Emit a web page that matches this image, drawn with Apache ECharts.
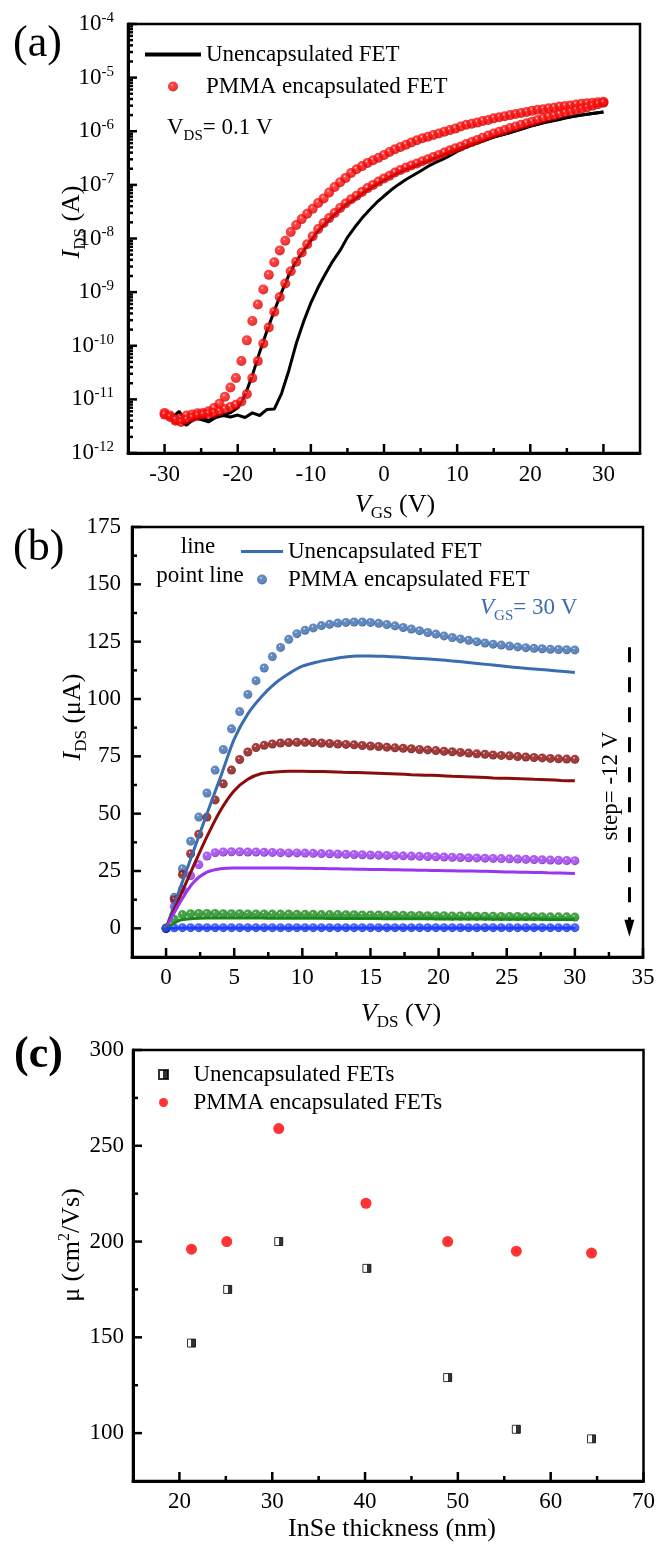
<!DOCTYPE html>
<html>
<head>
<meta charset="utf-8" />
<script src="https://cdn.jsdelivr.net/npm/echarts@6.0.0/dist/echarts.min.js"></script>
<style>
  html, body { margin: 0; padding: 0; background: #fff; }
  #main { width: 658px; height: 1547px; }
</style>
</head>
<body>
<div id="main"></div>
<script>
// ---------- (a) transfer curves, V_DS = 0.1 V ----------
// gate sweep of the PMMA points (0.75 V step)
const vgsSweep = [-30,-29.25,-28.5,-27.75,-27,-26.25,-25.5,-24.75,-24,-23.25,-22.5,-21.75,-21,-20.25,-19.5,-18.75,-18,-17.25,-16.5,-15.75,
  -15,-14.25,-13.5,-12.75,-12,-11.25,-10.5,-9.75,-9,-8.25,-7.5,-6.75,-6,-5.25,-4.5,-3.75,-3,-2.25,-1.5,-0.75,
  0,0.75,1.5,2.25,3,3.75,4.5,5.25,6,6.75,7.5,8.25,9,9.75,10.5,11.25,12,12.75,13.5,14.25,
  15,15.75,16.5,17.25,18,18.75,19.5,20.25,21,21.75,22.5,23.25,24,24.75,25.5,26.25,27,27.75,28.5,29.25,30];
const pmmaFwd = [5.6e-12,5.0e-12,4.0e-12,4.4e-12,5.0e-12,5.2e-12,5.5e-12,5.6e-12,6.0e-12,6.9e-12,
  8.3e-12,1.12e-11,1.66e-11,2.5e-11,5.2e-11,1.26e-10,2.9e-10,5.9e-10,1.12e-9,2.1e-9,
  3.6e-9,6.0e-9,9.1e-9,1.32e-8,1.78e-8,2.3e-8,2.9e-8,3.6e-8,4.6e-8,5.6e-8,
  7.2e-8,9.1e-8,1.12e-7,1.35e-7,1.66e-7,1.95e-7,2.24e-7,2.57e-7,2.88e-7,3.2e-7,
  3.6e-7,4.1e-7,4.6e-7,5.1e-7,5.6e-7,6.2e-7,6.8e-7,7.4e-7,7.9e-7,8.5e-7,
  9.1e-7,9.8e-7,1.05e-6,1.12e-6,1.23e-6,1.32e-6,1.38e-6,1.45e-6,1.55e-6,1.62e-6,
  1.74e-6,1.82e-6,1.91e-6,2.0e-6,2.09e-6,2.19e-6,2.29e-6,2.4e-6,2.51e-6,2.57e-6,
  2.69e-6,2.75e-6,2.88e-6,2.95e-6,3.02e-6,3.16e-6,3.24e-6,3.31e-6,3.39e-6,3.47e-6,3.55e-6];
const pmmaRev = [5.2e-12,4.7e-12,4.2e-12,3.8e-12,4.2e-12,4.6e-12,5.0e-12,5.2e-12,5.4e-12,5.6e-12,
  6.0e-12,6.6e-12,7.2e-12,7.9e-12,9.1e-12,1.26e-11,2.5e-11,5.2e-11,1.1e-10,2.2e-10,
  4.3e-10,8.1e-10,1.45e-9,2.45e-9,3.7e-9,5.5e-9,7.8e-9,1.1e-8,1.5e-8,1.95e-8,
  2.4e-8,3.0e-8,3.7e-8,4.5e-8,5.4e-8,6.3e-8,7.4e-8,8.7e-8,1.0e-7,1.15e-7,
  1.32e-7,1.48e-7,1.7e-7,1.9e-7,2.1e-7,2.3e-7,2.5e-7,2.75e-7,3.0e-7,3.3e-7,
  3.6e-7,4.0e-7,4.4e-7,4.8e-7,5.2e-7,5.8e-7,6.3e-7,6.9e-7,7.6e-7,8.3e-7,
  9.1e-7,9.8e-7,1.05e-6,1.15e-6,1.23e-6,1.32e-6,1.41e-6,1.51e-6,1.62e-6,1.74e-6,
  1.86e-6,1.95e-6,2.09e-6,2.24e-6,2.34e-6,2.51e-6,2.63e-6,2.78e-6,3.0e-6,3.2e-6,3.4e-6];
// gate sweep of the unencapsulated lines (1 V step)
const vgsLine = [-30,-29,-28,-27,-26,-25,-24,-23,-22,-21,-20,-19,-18,-17,-16,-15,-14,-13,-12,-11,
  -10,-9,-8,-7,-6,-5,-4,-3,-2,-1,0,1,2,3,4,5,6,7,8,9,
  10,11,12,13,14,15,16,17,18,19,20,21,22,23,24,25,26,27,28,29,30];
const uncapFwd = [5.0e-12,4.5e-12,6.0e-12,3.4e-12,4.2e-12,4.6e-12,4.0e-12,4.8e-12,5.2e-12,5.6e-12,
  7.0e-12,1.2e-11,2.8e-11,7.6e-11,1.9e-10,4.5e-10,1.0e-9,2.1e-9,3.8e-9,5.9e-9,
  9.1e-9,1.4e-8,1.9e-8,2.6e-8,3.5e-8,4.5e-8,5.4e-8,6.9e-8,8.5e-8,1.02e-7,
  1.23e-7,1.45e-7,1.7e-7,1.95e-7,2.2e-7,2.5e-7,2.8e-7,3.2e-7,3.6e-7,4.1e-7,
  4.6e-7,5.1e-7,5.8e-7,6.3e-7,7.1e-7,7.8e-7,8.5e-7,9.3e-7,1.02e-6,1.12e-6,
  1.23e-6,1.35e-6,1.48e-6,1.58e-6,1.7e-6,1.78e-6,1.91e-6,2.0e-6,2.09e-6,2.19e-6,2.29e-6];
const uncapRev = [5.5e-12,4.8e-12,4.0e-12,3.3e-12,4.5e-12,4.2e-12,3.8e-12,4.6e-12,5.0e-12,4.7e-12,
  5.1e-12,4.6e-12,5.6e-12,5.0e-12,6.5e-12,6.6e-12,1.3e-11,3.5e-11,1.1e-10,2.8e-10,
  6.3e-10,1.23e-9,2.2e-9,3.8e-9,6.0e-9,1.05e-8,1.62e-8,2.4e-8,3.4e-8,4.7e-8,
  6.2e-8,8.1e-8,1.02e-7,1.26e-7,1.51e-7,1.82e-7,2.2e-7,2.6e-7,3.0e-7,3.5e-7,
  4.2e-7,4.9e-7,5.5e-7,6.2e-7,6.9e-7,7.8e-7,8.5e-7,9.3e-7,1.02e-6,1.12e-6,
  1.26e-6,1.35e-6,1.45e-6,1.55e-6,1.66e-6,1.82e-6,1.91e-6,2.0e-6,2.09e-6,2.19e-6,2.29e-6];

// ---------- (b) output curves, V_GS from 30 V in -12 V steps ----------
const vdsDot = [0,0.6,1.2,1.8,2.4,3,3.6,4.2,4.8,5.4,6,6.6,7.2,7.8,8.4,9,9.6,10.2,10.8,11.4,
  12,12.6,13.2,13.8,14.4,15,15.6,16.2,16.8,17.4,18,18.6,19.2,19.8,20.4,21,21.6,22.2,22.8,23.4,
  24,24.6,25.2,25.8,26.4,27,27.6,28.2,28.8,29.4,30];
const pmma30 = [0,13.5,26,38,48.5,59,69,78,87,94.5,102,108,113.5,118.5,122.5,126,128.5,130,131,132,
  132.6,133.1,133.4,133.6,133.6,133.4,133,132.5,131.9,131.2,130.5,129.8,129,128.3,127.5,126.8,126.2,125.6,125,124.4,
  123.9,123.5,123.1,122.7,122.4,122.1,121.9,121.7,121.6,121.5,121.4];
const pmma18 = [0,12.5,23.5,32.5,41,48.5,56,63,69,73.6,76.9,78.8,79.8,80.4,80.8,81,81.1,81.1,81,80.8,
  80.6,80.4,80.2,80,79.7,79.5,79.3,79,78.7,78.5,78.3,78,77.8,77.5,77.2,77,76.7,76.4,76.1,75.9,
  75.6,75.4,75.2,74.9,74.7,74.5,74.3,74.1,73.9,73.8,73.7];
const pmma6 = [0,9.5,17,23,27.8,31.5,33,33.3,33.4,33.4,33.3,33.3,33.2,33.1,33,32.9,32.9,32.8,32.7,32.6,
  32.5,32.4,32.3,32.2,32.1,32,31.9,31.8,31.7,31.6,31.5,31.4,31.3,31.2,31.1,31,30.9,30.8,30.7,30.6,
  30.5,30.4,30.3,30.2,30.1,30,29.9,29.8,29.7,29.6,29.5];
const pmmaN6 = [0,4,6,6.4,6.5,6.5,6.5,6.4,6.4,6.4,6.3,6.3,6.3,6.2,6.2,6.2,6.1,6.1,6.1,6,
  6,6,5.9,5.9,5.8,5.8,5.8,5.7,5.7,5.7,5.6,5.6,5.5,5.5,5.5,5.4,5.4,5.4,5.3,5.3,
  5.3,5.2,5.2,5.2,5.1,5.1,5.1,5,5,5,4.9];
const pmmaN18 = [0,0.2,0.3,0.3,0.3,0.3,0.3,0.3,0.3,0.3,0.3,0.3,0.3,0.3,0.3,0.3,0.3,0.3,0.3,0.3,
  0.3,0.3,0.3,0.3,0.3,0.3,0.3,0.3,0.3,0.3,0.3,0.3,0.3,0.3,0.3,0.3,0.3,0.3,0.3,0.3,
  0.3,0.3,0.3,0.3,0.3,0.3,0.3,0.3,0.3,0.3,0.3];
const vdsLine = [0,1,2,3,4,5,6,7,8,9,10,11,12,13,14,15,16,17,18,19,20,21,22,23,24,25,26,27,28,29,30];
const uncap30 = [0,17,33.5,50,66,82.5,93.5,101,106.8,111,114.3,116,117.2,118.2,118.7,118.8,118.6,118.3,117.9,117.5,
  117.1,116.6,116,115.4,114.8,114.2,113.6,113.1,112.6,112.1,111.6];
const uncap18 = [0,13.5,27,40,51.5,60,65,67.5,68.2,68.5,68.5,68.4,68.3,68.1,67.9,67.7,67.5,67.3,67,66.8,
  66.6,66.3,66.1,65.9,65.6,65.4,65.2,65,64.8,64.5,64.3];
const uncap6 = [0,11,20,24.5,26,26.3,26.3,26.3,26.3,26.3,26.2,26.1,26,25.9,25.8,25.7,25.6,25.5,25.4,25.3,
  25.2,25.1,25,24.9,24.8,24.6,24.5,24.4,24.2,24.1,23.9];
const uncapN6 = [0,3.5,4.3,4.5,4.5,4.5,4.5,4.5,4.4,4.4,4.4,4.4,4.3,4.3,4.3,4.3,4.2,4.2,4.2,4.2,
  4.1,4.1,4.1,4.1,4,4,4,4,3.9,3.9,3.9];
const uncapN18 = [0,0.1,0.1,0.1,0.1,0.1,0.1,0.1,0.1,0.1,0.1,0.1,0.1,0.1,0.1,0.1,0.1,0.1,0.1,0.1,
  0.1,0.1,0.1,0.1,0.1,0.1,0.1,0.1,0.1,0.1,0.1];
const gateNames = ['30 V', '18 V', '6 V', '-6 V', '-18 V'];

// ---------- (c) mobility vs thickness ----------
const thickUncap = [21.3, 25.2, 30.7, 40.2, 48.9, 56.3, 64.4];
const muUncap = [147, 175, 200, 186, 129, 102, 97];
const thickPmma = [21.3, 25.1, 30.7, 40.1, 48.9, 56.3, 64.4];
const muPmma = [196, 200, 259, 220, 200, 195, 194];

// ---------- tick values ----------
const aMajorX = [-30, -20, -10, 0, 10, 20, 30];
const aMinorX = [-25, -15, -5, 5, 15, 25];
const aMajorY = [1e-12, 1e-11, 1e-10, 1e-9, 1e-8, 1e-7, 1e-6, 1e-5, 1e-4];
const bMajorX = [0, 5, 10, 15, 20, 25, 30, 35];
const bMinorX = [2.5, 7.5, 12.5, 17.5, 22.5, 27.5, 32.5];
const bMajorY = [0, 25, 50, 75, 100, 125, 150, 175];
const bMinorY = [12.5, 37.5, 62.5, 87.5, 112.5, 137.5, 162.5];
const cMajorX = [20, 30, 40, 50, 60, 70];
const cMinorX = [25, 35, 45, 55, 65];
const cMajorY = [100, 150, 200, 250, 300];
const cMinorY = [125, 175, 225, 275];
// log minor ticks at 2..9 x 10^n
const aMinorY = [];
for (let n = -12; n < -4; n++) for (let k = 2; k <= 9; k++) aMinorY.push(k * Math.pow(10, n));

const SERIF = '"Liberation Serif", "Times New Roman", serif';
const col = { '30 V': '#3a6cb0', '18 V': '#8b0c0c', '6 V': '#9a35f0', '-6 V': '#178a17', '-18 V': '#1f3dff' };
const colDark = { '30 V': '#1d3f70', '18 V': '#4a0000', '6 V': '#5a1090', '-6 V': '#0a4a0a', '-18 V': '#0a1a90' };

function pairs(xs, ys) { return xs.map(function (x, i) { return [x, ys[i]]; }); }
function ball(base, dark) {
  return new echarts.graphic.RadialGradient(0.4, 0.34, 0.66, [
    { offset: 0, color: '#ffffff' }, { offset: 0.2, color: base }, { offset: 0.75, color: base }, { offset: 1, color: dark }
  ]);
}

// axis with line and labels
function axis(gi, pos, min, max, step, majors, margin) {
  return {
    type: 'value', gridIndex: gi, position: pos, min: min, max: max, interval: step,
    splitLine: { show: false },
    axisLine: { show: true, onZero: false, lineStyle: { color: '#000', width: 3 } },
    axisTick: { show: false },
    axisLabel: { show: true, customValues: majors, margin: margin, color: '#000', fontFamily: SERIF, fontSize: 23 }
  };
}

const legendText = { color: '#000', fontFamily: SERIF, fontSize: 23 };
const redBall = new echarts.graphic.RadialGradient(0.4, 0.34, 0.66, [
  { offset: 0, color: '#ffe8e8' }, { offset: 0.2, color: '#ff1a1a' }, { offset: 0.8, color: '#f00000' }, { offset: 1, color: '#b00000' }
]);

const seriesB = [];
const pmmaB = [pmma30, pmma18, pmma6, pmmaN6, pmmaN18];
const uncapB = [uncap30, uncap18, uncap6, uncapN6, uncapN18];
gateNames.forEach(function (g, i) {
  seriesB.push({
    type: 'scatter', name: 'PMMA encapsulated FET (' + g + ')', xAxisIndex: 1, yAxisIndex: 1,
    data: pairs(vdsDot, pmmaB[i]), symbolSize: 9, itemStyle: { color: ball(col[g], colDark[g]) }, z: 2
  });
});
gateNames.forEach(function (g, i) {
  seriesB.push({
    type: 'line', name: 'Unencapsulated FET (' + g + ')', xAxisIndex: 1, yAxisIndex: 1,
    data: pairs(vdsLine, uncapB[i]), symbol: 'none', smooth: 0.3,
    lineStyle: { color: col[g], width: 3 }, itemStyle: { color: col[g] }, z: 3
  });
});
// dashed arrow "step = -12 V"
seriesB[seriesB.length - 1].markLine = {
  silent: true, symbol: ['none', 'triangle'], label: { show: false },
  lineStyle: { color: '#000', width: 3, type: [15, 15] },
  data: [[{ coord: [34, 122.6] }, { coord: [34, 0], symbol: 'triangle', symbolSize: [10, 17] }]]
};

// rich styles for axis titles and annotations
function richSet(fill) {
  return {
    i: { fontFamily: SERIF, fontSize: 26, fontStyle: 'italic', fill: fill },
    n: { fontFamily: SERIF, fontSize: 26, fill: fill },
    s: { fontFamily: SERIF, fontSize: 17, fill: fill, padding: [18, 0, 0, 0] },
    p: { fontFamily: SERIF, fontSize: 16, fill: fill, padding: [0, 0, 14, 0] },
    ni: { fontFamily: SERIF, fontSize: 23, fontStyle: 'italic', fill: fill },
    nn: { fontFamily: SERIF, fontSize: 23, fill: fill },
    ns: { fontFamily: SERIF, fontSize: 15, fill: fill, padding: [16, 0, 0, 0] }
  };
}
function label(x, y, text, rot) {
  return {
    type: 'text', x: x, y: y, rotation: rot || 0,
    style: { text: text, rich: richSet('#000'), align: 'center', verticalAlign: 'middle' }
  };
}

const textEls = [
  { type: 'text', x: 13, y: 44, style: { text: '(a)', font: '44px ' + SERIF, fill: '#000', verticalAlign: 'middle' } },
  { type: 'text', x: 13, y: 548, style: { text: '(b)', font: '44px ' + SERIF, fill: '#000', verticalAlign: 'middle' } },
  { type: 'text', x: 14, y: 1056, style: { text: '(c)', font: 'bold 44px ' + SERIF, fill: '#000', verticalAlign: 'middle' } },
  // axis titles
  label(395, 505, '{i|V}{s|GS}{n| (V)}'),
  label(401, 1014, '{i|V}{s|DS}{n| (V)}'),
  label(392, 1529, '{n|InSe thickness (nm)}'),
  label(72, 222, '{i|I}{s|DS}{n| (A)}', Math.PI / 2),
  label(73, 717, '{i|I}{s|DS}{n| (μA)}', Math.PI / 2),
  label(72, 1245, '{n|μ (cm}{p|2}{n|/Vs)}', Math.PI / 2),
  // annotations
  { type: 'text', x: 167, y: 128, style: { text: '{nn|V}{ns|DS}{nn|= 0.1 V}', rich: richSet('#000'), verticalAlign: 'middle' } },
  { type: 'text', x: 480, y: 608, style: { text: '{ni|V}{ns|GS}{nn|= 30 V}', rich: richSet('#3a6cb0'), verticalAlign: 'middle' } },
  { type: 'text', x: 198, y: 547, style: { text: 'line', font: '23px ' + SERIF, fill: '#000', align: 'center', verticalAlign: 'middle' } },
  { type: 'text', x: 200, y: 576, style: { text: 'point line', font: '23px ' + SERIF, fill: '#000', align: 'center', verticalAlign: 'middle' } },
  {
    type: 'text', x: 611, y: 786, rotation: Math.PI / 2,
    style: { text: 'step= -12 V', font: '23px ' + SERIF, fill: '#000', align: 'center', verticalAlign: 'middle' }
  }
];

const lineIcon = 'path://M0,0L40,0L40,3L0,3Z';
const frame = { show: true, borderColor: '#000', borderWidth: 2.5 };
const option = {
  animation: false,
  grid: [
    Object.assign({ left: 128, top: 24, width: 512, height: 429 }, frame),
    Object.assign({ left: 132, top: 527, width: 511, height: 430 }, frame),
    Object.assign({ left: 133, top: 1050, width: 512, height: 431 }, frame)
  ],
  xAxis: [
    axis(0, 'bottom', -35, 35, 5, aMajorX, 10),
    axis(1, 'bottom', -2.5, 35, 2.5, bMajorX, 9),
    axis(2, 'bottom', 15, 70, 5, cMajorX, 9)
  ],
  yAxis: [
    {
      type: 'log', logBase: 10, gridIndex: 0, position: 'left', min: 1e-12, max: 1e-4,
      splitLine: { show: false },
      axisLine: { show: true, onZero: false, lineStyle: { color: '#000', width: 3 } },
      axisTick: { show: false },
      axisLabel: {
        show: true, margin: 14,
        formatter: function (v) { return '{b|10}{e|' + Math.round(Math.log10(v)) + '}'; },
        rich: {
          b: { fontFamily: SERIF, fontSize: 23, color: '#000' },
          e: { fontFamily: SERIF, fontSize: 15, color: '#000', padding: [0, 0, 12, 0] }
        }
      }
    },
    axis(1, 'left', -12.5, 175, 12.5, bMajorY, 11),
    axis(2, 'left', 75, 300, 25, cMajorY, 9)
  ],
  legend: [
    {
      data: [{ name: 'Unencapsulated FET', icon: lineIcon }, { name: 'PMMA encapsulated FET', icon: 'circle' }],
      orient: 'vertical', left: 140, top: 38, itemWidth: 56, itemHeight: 10, itemGap: 9,
      selectedMode: false, textStyle: legendText
    },
    {
      data: [{ name: 'Unencapsulated FET (30 V)', icon: lineIcon }, { name: 'PMMA encapsulated FET (30 V)', icon: 'circle' }],
      orient: 'vertical', left: 236, top: 535, itemWidth: 42, itemHeight: 10, itemGap: 5,
      selectedMode: false, textStyle: legendText,
      formatter: function (n) { return n.replace(/ \(.*\)$/, ''); }
    },
    {
      data: [{ name: 'Unencapsulated FETs', icon: 'path://M0,0L8,0L8,8L0,8Z' }, { name: 'PMMA encapsulated FETs', icon: 'circle' }],
      orient: 'vertical', left: 153, top: 1058, itemWidth: 50, itemHeight: 9, itemGap: 5,
      selectedMode: false, textStyle: legendText
    }
  ],
  series: [
    {
      type: 'line', name: 'Unencapsulated FET', xAxisIndex: 0, yAxisIndex: 0,
      data: pairs(vgsLine, uncapFwd), symbol: 'none',
      lineStyle: { color: '#000', width: 3 }, itemStyle: { color: '#000' }, z: 2
    },
    {
      type: 'line', name: 'Unencapsulated FET (reverse)', xAxisIndex: 0, yAxisIndex: 0,
      data: pairs(vgsLine, uncapRev), symbol: 'none',
      lineStyle: { color: '#000', width: 3 }, itemStyle: { color: '#000' }, z: 2
    },
    {
      type: 'scatter', name: 'PMMA encapsulated FET', xAxisIndex: 0, yAxisIndex: 0,
      data: pairs(vgsSweep, pmmaFwd), symbolSize: 10, itemStyle: { color: redBall }, z: 3
    },
    {
      type: 'scatter', name: 'PMMA encapsulated FET (reverse)', xAxisIndex: 0, yAxisIndex: 0,
      data: pairs(vgsSweep, pmmaRev), symbolSize: 10, itemStyle: { color: redBall }, z: 3
    }
  ].concat(seriesB).concat([
    {
      type: 'scatter', name: 'Unencapsulated FETs', xAxisIndex: 2, yAxisIndex: 2,
      data: pairs(thickUncap, muUncap), symbol: 'rect', symbolSize: 8,
      itemStyle: {
        color: new echarts.graphic.LinearGradient(0, 0, 1, 0, [
          { offset: 0, color: '#fff' }, { offset: 0.5, color: '#fff' },
          { offset: 0.5, color: '#000' }, { offset: 1, color: '#000' }
        ]),
        borderColor: '#000', borderWidth: 1
      }
    },
    {
      type: 'scatter', name: 'PMMA encapsulated FETs', xAxisIndex: 2, yAxisIndex: 2,
      data: pairs(thickPmma, muPmma), symbol: 'circle', symbolSize: 11,
      itemStyle: { color: '#ff0000' }
    }
  ]),
  graphic: { elements: textEls }
};

const chart = echarts.init(document.getElementById('main'), null, { renderer: 'canvas' });
chart.setOption(option);

// inward tick marks: positions come from each grid's own axis scales
const tickEls = [];
function addTicks(gi, vals, dir, edge, len) {
  vals.forEach(function (v) {
    const p = chart.convertToPixel({ gridIndex: gi }, dir === 'x' ? [v, edge] : [edge, v]);
    if (!p || isNaN(p[0]) || isNaN(p[1])) return;
    tickEls.push({
      type: 'line', silent: true, z: 100,
      shape: dir === 'x'
        ? { x1: p[0], y1: p[1], x2: p[0], y2: p[1] - len }
        : { x1: p[0], y1: p[1], x2: p[0] + len, y2: p[1] },
      style: { stroke: '#000', lineWidth: 2.5 }
    });
  });
}
addTicks(0, aMajorX, 'x', 1e-12, 9);
addTicks(0, aMinorX, 'x', 1e-12, 5);
addTicks(0, aMajorY, 'y', -35, 9);
addTicks(0, aMinorY, 'y', -35, 5);
addTicks(1, bMajorX, 'x', -12.5, 9);
addTicks(1, bMinorX, 'x', -12.5, 5);
addTicks(1, bMajorY, 'y', -2.5, 9);
addTicks(1, bMinorY, 'y', -2.5, 5);
addTicks(2, cMajorX, 'x', 75, 9);
addTicks(2, cMinorX, 'x', 75, 5);
addTicks(2, cMajorY, 'y', 15, 9);
addTicks(2, cMinorY, 'y', 15, 5);
chart.setOption({ graphic: { elements: textEls.concat(tickEls) } });
</script>
</body>
</html>
